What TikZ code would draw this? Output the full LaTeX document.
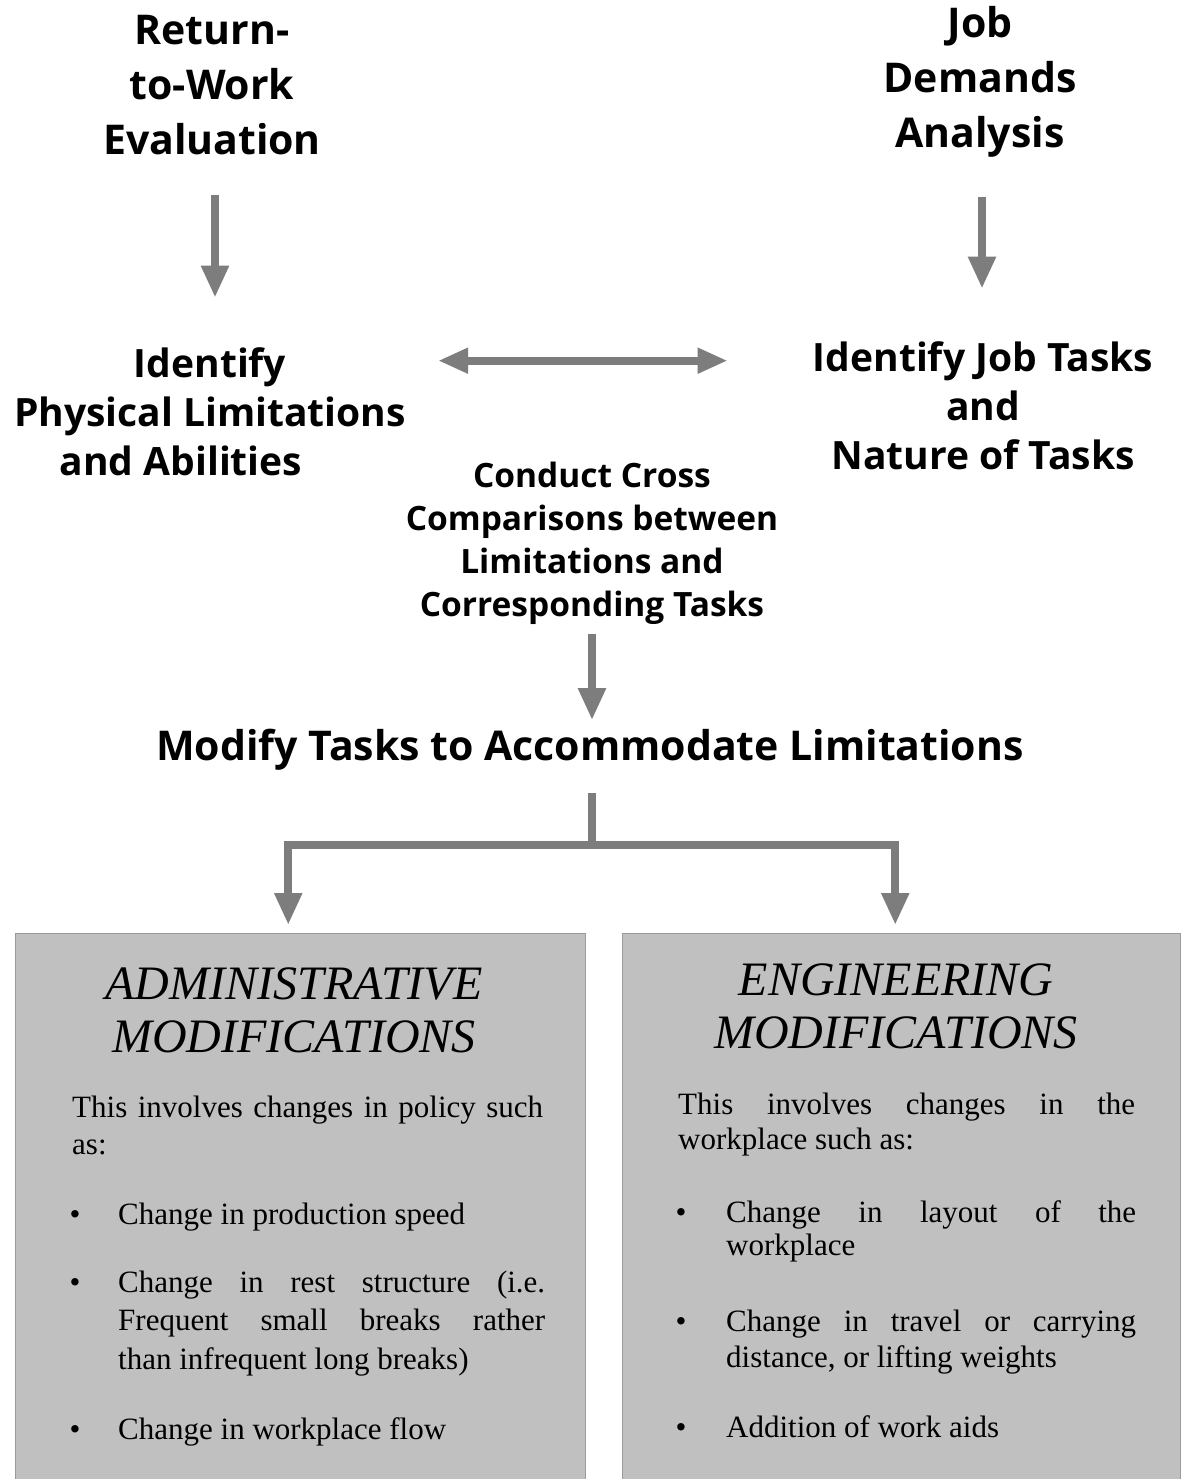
\documentclass[tikz,border=0pt]{standalone}
\usepackage{fontspec}
\setmainfont{Liberation Serif}
\newfontfamily\hdfont{Open Sans}
\usetikzlibrary{arrows.meta}
\definecolor{arrowgray}{RGB}{125,125,125}
\definecolor{boxgray}{RGB}{192,192,192}
\newcommand\jl[2]{\makebox[#1][s]{#2}}
\begin{document}
\begin{tikzpicture}[x=1pt,y=-1pt,
  bighead/.style={font=\hdfont\bfseries\fontsize{41}{55}\selectfont, align=center, inner sep=0pt},
  midhead/.style={font=\hdfont\bfseries\fontsize{39}{49}\selectfont, align=center, inner sep=0pt},
  smallhead/.style={font=\hdfont\bfseries\fontsize{33.5}{43}\selectfont, align=center, inner sep=0pt},
  gline/.style={draw=arrowgray, line width=8pt},
  garrow/.style={gline, -{Triangle[length=32pt,width=26pt]}},
  garrowboth/.style={gline, {Triangle[length=30pt,width=24pt]}-{Triangle[length=30pt,width=24pt]}},
  modbox/.style={fill=boxgray, draw=boxgray!80!black, line width=0.5pt, anchor=north west, inner sep=0pt},
  btitle/.style={font=\itshape\fontsize{48}{53}\selectfont, align=center, inner sep=0pt},
  btext/.style={font=\fontsize{31}{37}\selectfont, align=left, inner sep=0pt, anchor=base west},
  bul/.style={font=\fontsize{31}{37}\selectfont, inner sep=0pt, anchor=base}
]
\useasboundingbox (0,0) rectangle (1180,1479);
\fill[white] (0,0) rectangle (1180,1479);

% headings
\node[bighead] (rtw) at (212,85) {Return-\\to-Work\\Evaluation};
\node[bighead] (jda) at (980,82) {Job\\Demands\\Analysis};
\node[midhead] (ipl) at (210,412) {Identify\\Physical Limitations\\and Abilities\hspace*{58pt}};
\node[midhead] (ijt) at (983,406) {Identify Job Tasks\\and\\Nature of Tasks};
\node[smallhead] (ccc) at (592,543) {Conduct Cross\\Comparisons between\\Limitations and\\Corresponding Tasks};
\node[bighead] (mod) at (590,750) {Modify Tasks to Accommodate Limitations};

% boxes
\node[modbox, minimum width=570pt, minimum height=546pt] (admin) at (15,933) {};
\node[modbox, minimum width=558pt, minimum height=546pt] (eng) at (622,933) {};

% arrows
\draw[garrow, shorten <=40pt, shorten >=50pt] ([xshift=3pt]rtw.south) -- ([xshift=3pt]rtw.south |- ipl.north);
\draw[garrow, shorten <=39pt, shorten >=53pt] ([xshift=2pt]jda.south) -- ([xshift=2pt]jda.south |- ijt.north);
\coordinate (dal) at ([xshift=32pt,yshift=-13pt]ipl.north east);
\coordinate (dar) at ([xshift=-85pt]ijt.north west |- dal);
\draw[garrowboth] (dal) -- (dar);
\draw[garrow, shorten <=10pt, shorten >=9pt] (ccc.south) -- (ccc.south |- mod.north);
\coordinate (bj) at (592,845);
\draw[gline, shorten <=22pt] (mod.south -| bj) -- (bj);
\draw[garrow, shorten >=8pt] (bj) -| ([xshift=-12pt]admin.north);
\draw[garrow, shorten >=8pt] (bj) -| ([xshift=-6pt]eng.north);

% administrative box text
\node[btitle] (admt) at (294,1010) {ADMINISTRATIVE\\MODIFICATIONS};
\node[btext] (adp) at (72,1154) {\jl{471pt}{This involves changes in policy such}\\as:};
\node[bul] (adb1) at (75,1224) {•};
\node[btext] (ad1) at (118,1224) {Change in production speed};
\node[bul] (adb2) at (75,1292) {•};
\node[btext] (ad2) at (118,1369) {\jl{427pt}{Change in rest structure (i.e.}\\[1.5pt]\jl{427pt}{Frequent small breaks rather}\\[1.5pt]than infrequent long breaks)};
\node[bul] (adb3) at (75,1439) {•};
\node[btext] (ad3) at (118,1439) {Change in workplace flow};

% engineering box text
\node[btitle] (engt) at (896,1006) {ENGINEERING\\MODIFICATIONS};
\node[btext] (enp) at (678,1149) {\jl{457pt}{This involves changes in the}\\[-2pt]workplace such as:};
\node[bul] (enb1) at (681,1222) {•};
\node[btext] (en1) at (726,1255) {\jl{410pt}{Change in layout of the}\\[-4pt]workplace};
\node[bul] (enb2) at (681,1331) {•};
\node[btext] (en2) at (726,1367) {\jl{410pt}{Change in travel or carrying}\\[-1pt]distance, or lifting weights};
\node[bul] (enb3) at (681,1437) {•};
\node[btext] (en3) at (726,1437) {Addition of work aids};
\end{tikzpicture}
\end{document}
